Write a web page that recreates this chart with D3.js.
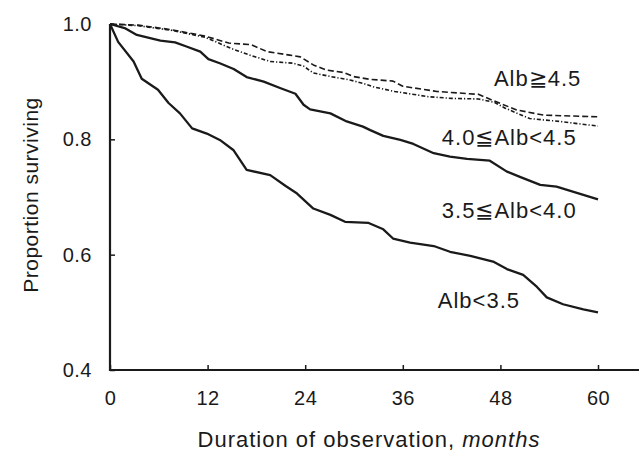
<!DOCTYPE html>
<html><head><meta charset="utf-8">
<script src="https://cdn.jsdelivr.net/npm/d3@7"></script>
<style>body{margin:0;background:#fff}svg{display:block}text{font-family:"Liberation Sans",Arial,sans-serif;fill:#1a1a1a}</style>
</head><body><svg id="c" width="639" height="456"></svg>
<script>
const xTicks = [0, 12, 24, 36, 48, 60];
const yTicks = [0.4, 0.6, 0.8, 1.0];
const seriesNames = ["Alb≧4.5", "4.0≦Alb<4.5", "3.5≦Alb<4.0", "Alb<3.5"];
const alb45Months = [0,3.5,7.6,11.7,14.6,17.4,19.3,22.1,23.4,25.0,26.6,28.7,29.9,32.0,34.8,36.0,40.2,45.3,47.5,50.0,53.3,60];
const alb45Surv   = [1.0,0.998,0.990,0.979,0.967,0.964,0.952,0.946,0.943,0.929,0.920,0.916,0.909,0.904,0.901,0.892,0.883,0.878,0.865,0.851,0.842,0.839];
const alb40Months = [0,3.5,7.6,11.7,15.0,17.2,19.7,22.5,23.8,25.0,27.1,29.5,31.1,32.4,35.0,39.1,42.0,45.3,47.3,48.6,51.6,55.3,60];
const alb40Surv   = [1.0,0.997,0.989,0.977,0.957,0.946,0.935,0.932,0.927,0.915,0.909,0.903,0.897,0.891,0.883,0.874,0.871,0.870,0.864,0.854,0.836,0.831,0.823];
const alb35Months = [0,1.8,3.3,6.2,8.0,9.4,11.1,12.1,13.5,15.2,16.8,18.9,20.9,22.8,23.8,24.6,27.1,29.1,31.1,32.0,33.6,35.7,37.3,39.8,41.8,43.9,46.7,48.8,50.4,52.9,54.9,57.0,60];
const alb35Surv   = [1.0,0.993,0.981,0.971,0.968,0.961,0.952,0.939,0.932,0.922,0.908,0.900,0.889,0.879,0.860,0.852,0.845,0.831,0.822,0.816,0.806,0.799,0.792,0.776,0.770,0.766,0.763,0.744,0.735,0.721,0.718,0.709,0.696];
const albLowMonths = [0,1.0,2.9,3.9,5.9,7.2,8.6,10.1,11.9,13.5,15.2,16.8,19.7,21.6,23.0,25.0,27.1,28.9,31.8,33.6,34.8,36.9,39.8,41.8,44.3,47.1,48.8,50.8,52.5,53.7,55.7,58.2,60];
const albLowSurv   = [1.0,0.969,0.935,0.905,0.886,0.863,0.845,0.819,0.810,0.799,0.781,0.747,0.738,0.719,0.706,0.680,0.669,0.657,0.655,0.644,0.628,0.621,0.615,0.605,0.598,0.588,0.575,0.565,0.544,0.526,0.514,0.505,0.500];

const svg = d3.select("#c");
const x = d3.scaleLinear().domain([0, 60]).range([110, 598]);
const y = d3.scaleLinear().domain([0.4, 1.0]).range([370, 24]);

const series = [
  {name: seriesNames[0], m: alb45Months, s: alb45Surv, dash: "6,3", w: 1.6, lx: 47.2, ly: 0.906},
  {name: seriesNames[1], m: alb40Months, s: alb40Surv, dash: "4,2,1.2,2", w: 1.6, lx: 40.8, ly: 0.804},
  {name: seriesNames[2], m: alb35Months, s: alb35Surv, dash: null, w: 2.3, lx: 40.8, ly: 0.677},
  {name: seriesNames[3], m: albLowMonths, s: albLowSurv, dash: null, w: 2.3, lx: 40.3, ly: 0.521}
];

const line = d3.line().x(d => x(d[0])).y(d => y(d[1]));
series.forEach(sr => {
  const pts = sr.m.map((v, i) => [v, sr.s[i]]);
  svg.append("path").attr("d", line(pts)).attr("fill", "none")
    .attr("stroke", "#1a1a1a").attr("stroke-width", sr.w)
    .attr("stroke-dasharray", sr.dash).attr("stroke-linejoin", "round");
  svg.append("text").attr("x", x(sr.lx)).attr("y", y(sr.ly) + 8)
    .attr("font-size", 22).attr("letter-spacing", 1).text(sr.name);
});

// axes
const gx = svg.append("g").attr("transform", "translate(0,370)")
  .call(d3.axisBottom(x).tickValues(xTicks).tickSizeInner(-5).tickSizeOuter(0).tickPadding(21).tickFormat(d3.format("d")));
gx.select(".domain").remove();
gx.selectAll("text").attr("font-size", 20).attr("letter-spacing", 0.5).attr("font-family", "Liberation Sans, Arial, sans-serif").attr("fill", "#1a1a1a");
gx.selectAll("line").attr("stroke", "#1a1a1a").attr("stroke-width", 1.5);

const gy = svg.append("g").attr("transform", "translate(110,0)")
  .call(d3.axisLeft(y).tickValues(yTicks).tickSizeInner(-5).tickSizeOuter(0).tickPadding(18).tickFormat(d3.format(".1f")));
gy.select(".domain").remove();
gy.selectAll("text").attr("font-size", 20).attr("letter-spacing", 0.5).attr("font-family", "Liberation Sans, Arial, sans-serif").attr("fill", "#1a1a1a");
gy.selectAll("line").attr("stroke", "#1a1a1a").attr("stroke-width", 1.5);

svg.append("line").attr("x1", 110).attr("x2", 639).attr("y1", 370).attr("y2", 370)
  .attr("stroke", "#1a1a1a").attr("stroke-width", 2.2);
svg.append("line").attr("x1", 110).attr("x2", 110).attr("y1", 24).attr("y2", 371)
  .attr("stroke", "#1a1a1a").attr("stroke-width", 2.2);

svg.append("text").attr("x", 369).attr("y", 447).attr("text-anchor", "middle").attr("font-size", 22).attr("letter-spacing", 1)
  .html('Duration of observation, <tspan font-style="italic">months</tspan>');
svg.append("text").attr("transform", "translate(38,195) rotate(-90)").attr("text-anchor", "middle")
  .attr("font-size", 21).attr("letter-spacing", 0.5).text("Proportion surviving");
</script></body></html>
